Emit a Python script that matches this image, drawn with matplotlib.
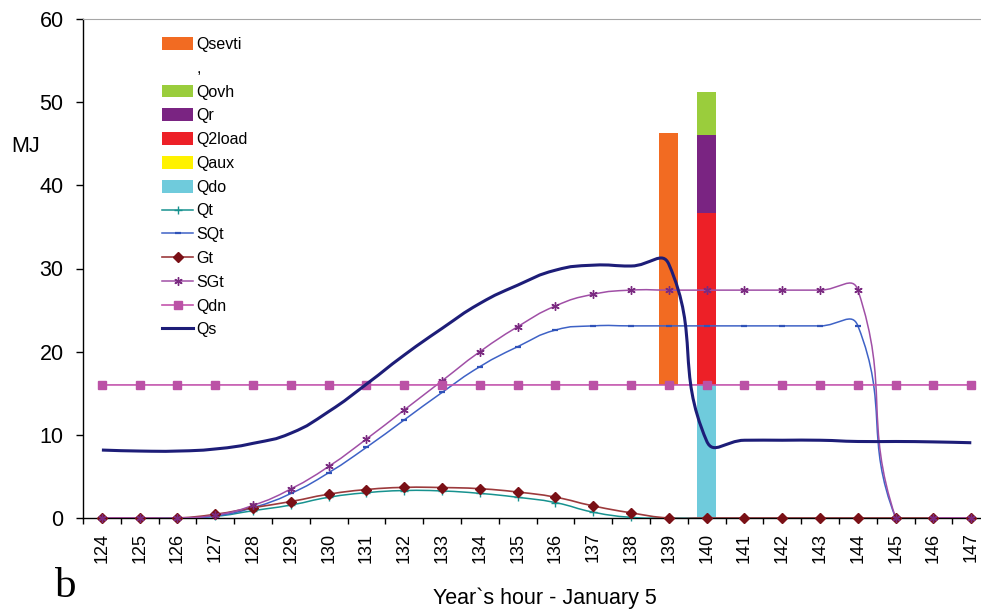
import numpy as np
import matplotlib
matplotlib.use("Agg")
import matplotlib.pyplot as plt
from matplotlib.path import Path
from matplotlib.patches import PathPatch, Patch
from matplotlib.lines import Line2D

plt.rcParams['font.family'] = ['Liberation Sans', 'DejaVu Sans']

# Hours of the year (January 5)
hours = list(range(124, 148))
hour_labels = [str(h) for h in hours]

# Hourly series, MJ
Qt = [0, 0, 0, 0.2, 0.88, 1.56, 2.49, 3.04, 3.3, 3.25, 2.96, 2.49, 1.85, 0.7, 0.08,
      0, 0, 0, 0, 0, 0, 0, 0, 0]
SQt = [0, 0, 0, 0.25, 1.25, 2.95, 5.45, 8.5, 11.8, 15.1, 18.2, 20.6, 22.6, 23.1, 23.1,
       23.1, 23.1, 23.1, 23.1, 23.1, 23.1, 0, 0, 0]
Gt = [0, 0, 0, 0.45, 1.24, 1.98, 2.86, 3.42, 3.68, 3.66, 3.52, 3.12, 2.5, 1.45, 0.62,
      0, 0, 0, 0, 0, 0, 0, 0, 0]
SGt = [0, 0, 0, 0.35, 1.52, 3.5, 6.2, 9.5, 13.0, 16.5, 20.0, 23.0, 25.5, 26.9, 27.4,
       27.4, 27.4, 27.4, 27.4, 27.4, 27.4, 0, 0, 0]
Qdn = [16] * 24
Qs = [8.17, 8.05, 8.05, 8.3, 8.98, 10.2, 12.8, 16.1, 19.6, 22.8, 25.8, 28.0, 29.8,
      30.4, 30.3, 30.5, 9.25, 9.35, 9.35, 9.35, 9.2, 9.2, 9.15, 9.05]

# Stacked columns (bottom to top)
bar_hours = [139, 140]
Qdo = [0, 16]
Qaux = [0, 0]
Q2load = [0, 20.7]
Qr = [0, 9.4]
Qovh = [0, 5.1]
gap = [16, 0]          # unfilled base segment
Qsevti = [30.3, 0]

W, H, DPI = 981, 615, 100
fig = plt.figure(figsize=(W / DPI, H / DPI), dpi=DPI)
ax_l, ax_b, ax_w, ax_h = 83 / W, 97 / H, 907.2 / W, 499 / H
ax = fig.add_axes([ax_l, ax_b, ax_w, ax_h])
ax.set_xlim(123.5, 147.5)
ax.set_ylim(0, 60)

# pixels per unit, used so the curve smoothing works in screen space
sx = ax_w * W / 24.0
sy = ax_h * H / 60.0


def smooth_path(x, y, k=0.5):
    """Bezier curve through the points, tangents weighted by segment length."""
    P = np.column_stack([np.asarray(x, float) * sx, np.asarray(y, float) * sy])
    n = len(P)
    L = np.hypot(*(P[1:] - P[:-1]).T)
    verts = [P[0]]
    for i in range(n - 1):
        if i == 0:
            c1 = P[0] + (P[1] - P[0]) * k
        else:
            T = P[i + 1] - P[i - 1]
            c1 = P[i] + T * k * L[i] / (L[i - 1] + L[i])
        if i + 1 == n - 1:
            c2 = P[n - 1] - (P[n - 1] - P[n - 2]) * k
        else:
            T = P[i + 2] - P[i]
            c2 = P[i + 1] - T * k * L[i] / (L[i] + L[i + 1])
        verts += [c1, c2, P[i + 1]]
    verts = np.array(verts) / [sx, sy]
    codes = [Path.MOVETO] + [Path.CURVE4] * (3 * (n - 1))
    return Path(verts, codes)


# columns
colors = {'Qdo': '#6fcbdc', 'Qaux': '#fff200', 'Q2load': '#ed2027',
          'Qr': '#7a2482', 'Qovh': '#9acd3c', 'Qsevti': '#f26b22'}
stack = [('Qdo', Qdo), ('Qaux', Qaux), ('Q2load', Q2load), ('Qr', Qr),
         ('Qovh', Qovh), (',', gap), ('Qsevti', Qsevti)]
bottom = np.zeros(len(bar_hours))
for name, vals in stack:
    vals = np.asarray(vals, float)
    if name == ',':
        ax.bar(bar_hours, vals, 0.5, bottom=bottom, color='none', linewidth=0)
    else:
        ax.bar(bar_hours, vals, 0.5, bottom=bottom, color=colors[name], linewidth=0)
    bottom += vals

# lines
series = [
    ('Qt', Qt, '#17928f', 1.1, '+', '#17928f', 6, 1.0),
    ('SQt', SQt, '#3e62c6', 1.1, '_', '#2f52b8', 5, 1.6),
    ('Gt', Gt, '#9c3a3c', 1.2, 'D', '#7a1016', 5, 1.0),
    ('SGt', SGt, '#a04fa6', 1.1, (6, 2, 0), '#7a2a80', 6, 1.0),
    ('Qdn', Qdn, '#c455ad', 1.2, 's', '#bb52a6', 6, 1.0),
]
handles = {}
for name, vals, lc, lw, mk, mc, ms, mew in series:
    ax.add_patch(PathPatch(smooth_path(hours, vals), facecolor='none',
                           edgecolor=lc, linewidth=lw, zorder=3))
    ax.plot(hours, vals, linestyle='none', marker=mk, color=mc, markersize=ms,
            markeredgewidth=mew, zorder=4, clip_on=False)
    handles[name] = Line2D([], [], color=lc, linewidth=lw, marker=mk,
                           markerfacecolor=mc, markeredgecolor=mc,
                           markersize=ms, markeredgewidth=mew)

ax.add_patch(PathPatch(smooth_path(hours, Qs), facecolor='none',
                       edgecolor='#1d1d78', linewidth=2.2, zorder=5))
handles['Qs'] = Line2D([], [], color='#1d1d78', linewidth=2.2)

# axes styling
ax.spines['right'].set_visible(False)
ax.spines['top'].set_color('#a6a6a6')
ax.spines['left'].set_linewidth(1.0)
ax.spines['bottom'].set_linewidth(1.0)

ax.set_yticks(range(0, 61, 10))
ax.tick_params(axis='y', direction='out', length=5, width=1, pad=9,
               labelsize=15.5)
ax.set_xticks(np.arange(123.5, 148, 1))
ax.set_xticklabels([])
ax.tick_params(axis='x', which='major', direction='out', length=4.3, width=1)
ax.set_xticks(hours, minor=True)
ax.set_xticklabels(hour_labels, minor=True, rotation=90, fontsize=13)
ax.tick_params(axis='x', which='minor', length=0, pad=10.5)

fig.text(11.5 / W, 1 - 152 / H, 'MJ', fontsize=15.5, ha='left', va='baseline')
fig.text(545 / W, 1 - 604 / H, 'Year`s hour - January 5', fontsize=15.5,
         ha='center', va='baseline')
fig.text(55 / W, 1 - 597 / H, 'b', fontsize=31, family='Liberation Serif',
         ha='left', va='baseline')

# legend
order = ['Qsevti', ',', 'Qovh', 'Qr', 'Q2load', 'Qaux', 'Qdo',
         'Qt', 'SQt', 'Gt', 'SGt', 'Qdn', 'Qs']
leg_handles = []
for name in order:
    if name in handles:
        leg_handles.append(handles[name])
    elif name == ',':
        leg_handles.append(Patch(facecolor='none', edgecolor='none'))
    else:
        leg_handles.append(Patch(facecolor=colors[name], edgecolor='none'))
fig.legend(leg_handles, order, loc='upper left',
           bbox_to_anchor=(162 / W, 1 - 37 / H), bbox_transform=fig.transFigure,
           frameon=False, fontsize=11.5, handlelength=1.95, handleheight=0.86,
           handletextpad=0.22, labelspacing=0.55, borderpad=0, borderaxespad=0,
           numpoints=1)

fig.savefig('out.png', dpi=DPI)
